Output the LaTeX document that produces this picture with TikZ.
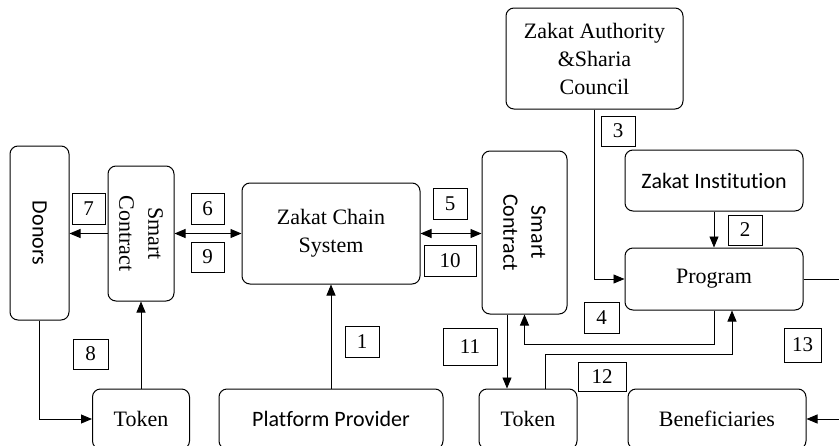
\documentclass[tikz,border=0pt]{standalone}
\usepackage{fontspec}
\setmainfont{Liberation Serif}
\setsansfont[Ligatures=NoCommon]{Carlito}
\usetikzlibrary{arrows.meta}

\tikzset{
  blk/.style={draw, rounded corners=8pt, line width=1pt, align=center, inner sep=0pt, font=\fontsize{22}{28}\selectfont},
  sblk/.style={blk, font=\sffamily\fontsize{22}{28}\selectfont},
  vtext/.style={rotate=-90, align=center, inner sep=0pt},
  num/.style={draw, line width=0.9pt, inner sep=0pt, minimum width=34pt, minimum height=31pt, font=\fontsize{21}{24}\selectfont},
  link/.style={line width=0.9pt},
}

\begin{document}
\begin{tikzpicture}[x=1pt, y=-1pt, >={Triangle[length=11pt,width=9pt]}]
        \clip (0,0) rectangle (839,445);

        % boxes
        \node[sblk, minimum width=59pt, minimum height=174pt] (donors) at (39.5,233) {};
        \node[vtext, font=\sffamily\fontsize{22}{28}\selectfont] (donorsT) at (donors) {Donors};
        \node[blk, minimum width=66pt, minimum height=135pt] (scL) at (141,233.5) {};
        \node[vtext, font=\fontsize{22}{29}\selectfont] (scLT) at (scL) {Smart\\Contract};
        \node[blk, minimum width=178pt, minimum height=101pt] (zcs) at (331,233.5) {Zakat Chain\\System};
        \node[blk, minimum width=85pt, minimum height=163pt] (scR) at (524.5,232.5) {};
        \node[vtext, font=\sffamily\fontsize{22}{28}\selectfont] (scRT) at (scR) {Smart\\Contract};
        \node[blk, minimum width=177pt, minimum height=101pt] (auth) at (594.5,58.5) {Zakat Authority\\\&Sharia\\Council};
        \node[sblk, minimum width=178pt, minimum height=61pt] (inst) at (714,180.5) {Zakat Institution};
        \node[blk, minimum width=178pt, minimum height=62pt] (prog) at (714,279) {Program};
        \node[blk, minimum width=97pt, minimum height=60pt] (tokL) at (141,419) {Token};
        \node[sblk, minimum width=224pt, minimum height=60pt] (plat) at (331,419) {Platform Provider};
        \node[blk, minimum width=98pt, minimum height=60pt] (tokR) at (528,419) {Token};
        \node[blk, minimum width=178pt, minimum height=60pt] (ben) at (717,419) {Beneficiaries};

        % step numbers
        \node[num] (n1) at (362,341.5) {1};
        \node[num, minimum height=30pt] (n2) at (745,230) {2};
        \node[num, minimum height=30pt] (n3) at (618,131) {3};
        \node[num, minimum width=35pt] (n4) at (601.5,317.5) {4};
        \node[num] (n5) at (450,203.5) {5};
        \node[num, minimum width=33pt] (n6) at (207.5,208.5) {6};
        \node[num, minimum width=33pt] (n7) at (88.5,208.5) {7};
        \node[num, minimum width=35pt, minimum height=30pt] (n8) at (90.5,354) {8};
        \node[num, minimum width=33pt, minimum height=30pt] (n9) at (207.5,257) {9};
        \node[num, minimum width=52pt] (n10) at (450,260.5) {10};
        \node[num, minimum width=54pt, minimum height=37pt] (n11) at (470,346.5) {11};
        \node[num, minimum width=48pt, minimum height=29pt] (n12) at (602,376.5) {12};
        \node[num, minimum width=37pt, minimum height=34pt] (n13) at (802.5,345) {13};

        % flows
        \draw[link, ->] (plat) -- (zcs);
        \draw[link, ->] (scL.west) -- (scL.west -| donors.east);
        \draw[link, <->] (scL.east) -- (scL.east -| zcs.west);
        \draw[link, <->] (zcs.east) -- (zcs.east -| scR.west);
        \draw[link, ->] (donors.south) |- (tokL.west);
        \draw[link, ->] (tokL) -- (scL);
        \draw[link, ->] ([xshift=-17.5pt]scR.south) -- ([xshift=-21pt]tokR.north);
        \draw[link, ->] (auth.south) |- (prog.west);
        \draw[link, ->] (inst) -- (prog);
        \draw[link, ->] (prog.south) -- ++(0,34) -| (scR.south);
        \draw[link, ->] ([xshift=17pt]tokR.north) -- ++(0,-34) -| ([xshift=18pt]prog.south);
        \draw[link, ->] (prog.east) -- ++(45,0) |- (ben.east);
\end{tikzpicture}
\end{document}
